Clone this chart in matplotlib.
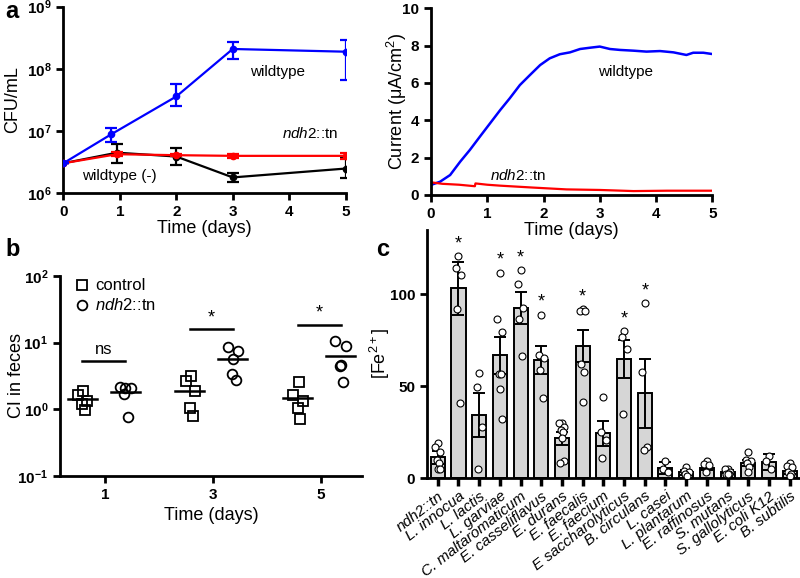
import numpy as np
import matplotlib
matplotlib.use('Agg')
import matplotlib.pyplot as plt
from matplotlib.ticker import FixedLocator, FixedFormatter, NullLocator

plt.rcParams['font.family'] = ['Liberation Sans', 'DejaVu Sans']
plt.rcParams['mathtext.fontset'] = 'custom'
plt.rcParams['mathtext.rm'] = 'Liberation Sans'
plt.rcParams['mathtext.it'] = 'Liberation Sans:italic'
plt.rcParams['mathtext.bf'] = 'Liberation Sans:bold'

# ---------------- Panel a (left): CFU/mL ----------------
cfu_days_wt = [0, 0.85, 2, 3, 5]
cfu_days = [0, 0.95, 2, 3, 5]
cfu_wt = [3.04e6, 8.9e6, 3.6e7, 2.09e8, 1.89e8]
cfu_wt_lo = [0, 2.1e6, 1.1e7, 0.65e8, 1.23e8]
cfu_wt_hi = [0, 2.5e6, 2.1e7, 0.65e8, 1.0e8]
cfu_mut = [3.04e6, 4.25e6, 4.1e6, 4.0e6, 4.0e6]
cfu_mut_err = [0, 0.3e6, 0.15e6, 0.35e6, 0.4e6]
cfu_neg = [3.04e6, 4.5e6, 3.9e6, 1.8e6, 2.5e6]
cfu_neg_lo = [0, 1.4e6, 1.1e6, 0.26e6, 0.76e6]
cfu_neg_hi = [0, 1.8e6, 1.4e6, 0.3e6, 1.15e6]

# ---------------- Panel a (right): current ----------------
cur_wt_t = [0, 0.16, 0.34, 0.52, 0.69, 0.87, 1.05, 1.23, 1.40, 1.58, 1.76, 1.94,
            2.11, 2.29, 2.47, 2.65, 2.83, 3.0, 3.18, 3.36, 3.60, 3.83, 4.07, 4.31,
            4.54, 4.66, 4.84, 5.0]
cur_wt = [0.54, 0.71, 1.07, 1.79, 2.41, 3.13, 3.84, 4.55, 5.18, 5.89, 6.43, 6.96,
          7.32, 7.54, 7.64, 7.82, 7.89, 7.95, 7.82, 7.77, 7.73, 7.68, 7.71, 7.64,
          7.5, 7.62, 7.62, 7.55]
cur_mut_t = [0, 0.2, 0.5, 0.78, 0.79, 1.0, 1.23, 1.8, 2.41, 3.0, 3.6, 4.2, 5.0]
cur_mut = [0.68, 0.6, 0.55, 0.47, 0.62, 0.55, 0.5, 0.4, 0.3, 0.27, 0.21, 0.23, 0.23]

# ---------------- Panel b: CI in feces ----------------
ci_days = [1, 3, 5]
ci_control = [[1.9, 1.62, 1.33, 1.22, 0.98],
              [3.16, 2.66, 1.88, 1.06, 0.79],
              [2.57, 1.62, 1.33, 1.06, 0.71]]
ci_mutant = [[2.2, 2.1, 2.1, 1.7, 0.78],
             [8.7, 7.5, 5.75, 3.35, 2.75],
             [10.6, 8.9, 4.7, 4.4, 2.57]]
ci_control_mean = [1.41, 1.88, 1.46]
ci_mutant_mean = [1.82, 5.6, 6.3]
ci_sig = ['ns', '*', '*']

# ---------------- Panel c: Fe2+ ----------------
species = ['ndh2::tn', 'L. innocua', 'L. lactis', 'L. garviae', 'C. maltaromaticum',
           'E. casseliflavus', 'E. durans', 'E. faecalis', 'E. faecium',
           'E saccharolyticus', 'B. circulans', 'L. casei', 'L. plantarum',
           'E. raffinosus', 'S. mutans', 'S. gallolyticus', 'E. coli K12', 'B. subtilis']
fe_mean = [11.2, 103.3, 34.2, 66.8, 92.6, 64.1, 21.6, 71.9, 24.3, 64.7, 46.0,
           5.6, 3.1, 5.6, 3.4, 8.3, 8.5, 3.8]
fe_sem = [3.4, 14.3, 11.8, 10.2, 8.5, 7.5, 3.4, 8.7, 7.0, 10.5, 19.0,
          3.2, 1.2, 1.5, 0.8, 1.6, 4.3, 1.4]
fe_points = [[19, 17, 14, 10, 8, 5, 5],
             [120.7, 114.5, 110.3, 92.2, 40.6],
             [57.2, 49.3, 27.5, 4.9],
             [111.8, 86.8, 79.5, 56.5, 56.5, 48.7, 31.9],
             [113.4, 105.8, 92.7, 86.8, 66.3],
             [89, 67.2, 65.4, 58.7, 43.3],
             [30, 30, 28, 26, 25, 22, 9, 8],
             [91.8, 90.8, 90.8, 61.8, 57.8, 41.1],
             [44.2, 25.2, 20.7, 10.7],
             [79.9, 76.8, 70.1, 34.6],
             [95.3, 57.8, 17.0, 15.2],
             [9, 5, 3],
             [6, 4, 3, 2, 1],
             [9, 7.5, 7, 3],
             [5, 5, 3, 2, 2, 2],
             [14, 10, 9, 8, 6, 3],
             [12, 9, 5],
             [8, 6.5, 6, 3.5, 2, 1]]
fe_sig = [0, 1, 0, 1, 1, 1, 0, 1, 0, 1, 1, 0, 0, 0, 0, 0, 0, 0]

# ---------------- Figure ----------------
fig = plt.figure(figsize=(8.0, 5.78), dpi=100)
W, H = 800.0, 578.0


def ax_px(x0, y0, x1, y1):
    a = fig.add_axes([x0 / W, 1 - y1 / H, (x1 - x0) / W, (y1 - y0) / H])
    a.patch.set_alpha(0)
    return a


SPW = 2.0
TICKFS = 11
LABFS = 13


def style(ax):
    for s in ['top', 'right']:
        ax.spines[s].set_visible(False)
    for s in ['left', 'bottom']:
        ax.spines[s].set_linewidth(SPW)
    ax.tick_params(width=SPW, length=5, labelsize=TICKFS, direction='out')
    for lab in ax.get_xticklabels() + ax.get_yticklabels():
        lab.set_fontweight('bold')


# Panel a left
ax1 = ax_px(63.3, 6.7, 345.7, 193.3)
ax1.set_yscale('log')
ax1.set_ylim(1e6, 1e9)
ax1.set_xlim(0, 5)
ax1.errorbar(cfu_days_wt, cfu_wt, yerr=[cfu_wt_lo, cfu_wt_hi], color='#0000ff', lw=1.6,
             marker='o', ms=4.5, capsize=4.5, elinewidth=1.6, capthick=1.6, zorder=5)
ax1.errorbar(cfu_days, cfu_mut, yerr=cfu_mut_err, color='#ff0000', lw=1.6,
             marker='o', ms=4.5, capsize=4.5, elinewidth=1.6, capthick=1.6, zorder=4)
ax1.errorbar(cfu_days, cfu_neg, yerr=[cfu_neg_lo, cfu_neg_hi], color='black', lw=1.6,
             marker='o', ms=4.5, capsize=4.5, elinewidth=1.6, capthick=1.6, zorder=3)
ax1.yaxis.set_major_locator(FixedLocator([1e6, 1e7, 1e8, 1e9]))
ax1.yaxis.set_major_formatter(FixedFormatter([r'$\mathbf{10^{6}}$', r'$\mathbf{10^{7}}$',
                                              r'$\mathbf{10^{8}}$', r'$\mathbf{10^{9}}$']))
ax1.yaxis.set_minor_locator(NullLocator())
ax1.set_xticks([0, 1, 2, 3, 4, 5])
ax1.set_xlabel('Time (days)', fontsize=LABFS, labelpad=1)
ax1.set_ylabel('CFU/mL', fontsize=LABFS)
ax1.yaxis.set_label_coords(-0.15, 0.5)
style(ax1)
ax1.text(3.8, 9e7, 'wildtype', fontsize=11, ha='center', va='center')
ax1.text(4.37, 9.3e6, r'$\it{ndh2}$::tn', fontsize=11, ha='center', va='center')
ax1.text(1.0, 1.9e6, 'wildtype (-)', fontsize=11, ha='center', va='center')

# Panel a right
ax2 = ax_px(431, 8.3, 712.3, 195)
ax2.plot(cur_wt_t, cur_wt, color='#0000ff', lw=1.8)
ax2.plot(cur_mut_t, cur_mut, color='#ff0000', lw=1.6)
ax2.set_xlim(0, 5)
ax2.set_ylim(0, 10)
ax2.set_xticks([0, 1, 2, 3, 4, 5])
ax2.set_yticks([0, 2, 4, 6, 8, 10])
ax2.set_xlabel('Time (days)', fontsize=LABFS, labelpad=1)
ax2.set_ylabel('Current (μA/cm$^{2}$)', fontsize=LABFS)
ax2.yaxis.set_label_coords(-0.078, 0.5)
style(ax2)
ax2.text(3.45, 6.6, 'wildtype', fontsize=11, ha='center', va='center')
ax2.text(1.55, 1.07, r'$\it{ndh2}$::tn', fontsize=11, ha='center', va='center')

# Panel b
ax3 = ax_px(60, 276, 361.7, 476)
ax3.set_yscale('log')
ax3.set_ylim(0.1, 100)
ax3.set_xlim(0.16, 5.76)
ctrl_off, mut_off = -0.43, 0.37
jit_c = [0.02, -0.08, 0.1, 0.0, 0.05]
jit_m = [-0.1, 0.1, 0.0, -0.02, 0.05]
for i, d in enumerate(ci_days):
    xc = [d + ctrl_off + j for j in jit_c]
    xm = [d + mut_off + j for j in jit_m]
    ax3.plot(xc, ci_control[i], ls='none', marker='s', ms=7, mfc='none', mec='black', mew=1.3)
    ax3.plot(xm, ci_mutant[i], ls='none', marker='o', ms=7, mfc='none', mec='black', mew=1.3)
    ax3.plot([d + ctrl_off - 0.27, d + ctrl_off + 0.27], [ci_control_mean[i]] * 2, color='black', lw=1.8)
    ax3.plot([d + mut_off - 0.27, d + mut_off + 0.27], [ci_mutant_mean[i]] * 2, color='black', lw=1.8)
sig_y = [5.4, 15.8, 18.3]
for i, d in enumerate(ci_days):
    ax3.plot([d + ctrl_off, d + mut_off], [sig_y[i]] * 2, color='black', lw=1.8)
    ax3.text(d + (ctrl_off + mut_off) / 2, sig_y[i] * 1.12, ci_sig[i], ha='center', va='bottom',
             fontsize=12 if ci_sig[i] == 'ns' else 13)
ax3.yaxis.set_major_locator(FixedLocator([0.1, 1, 10, 100]))
ax3.yaxis.set_major_formatter(FixedFormatter([r'$\mathbf{10^{-1}}$', r'$\mathbf{10^{0}}$',
                                              r'$\mathbf{10^{1}}$', r'$\mathbf{10^{2}}$']))
ax3.yaxis.set_minor_locator(NullLocator())
ax3.set_xticks(ci_days)
ax3.set_xlabel('Time (days)', fontsize=LABFS, labelpad=4)
ax3.set_ylabel('CI in feces', fontsize=LABFS)
ax3.yaxis.set_label_coords(-0.116, 0.5)
style(ax3)
ax3.plot([0.57], [73], ls='none', marker='s', ms=7, mfc='none', mec='black', mew=1.3, clip_on=False)
ax3.plot([0.57], [37], ls='none', marker='o', ms=7, mfc='none', mec='black', mew=1.3, clip_on=False)
ax3.text(0.81, 73, 'control', fontsize=12, va='center')
ax3.text(0.81, 37, r'$\it{ndh2}$::tn', fontsize=12, va='center')

# Panel c
ax4 = ax_px(427, 230, 800, 478)
xs = np.arange(len(species))
ax4.bar(xs, fe_mean, width=0.68, color='#d6d6d6', edgecolor='black', lw=1.4, zorder=2)
ax4.errorbar(xs, fe_mean, yerr=fe_sem, fmt='none', ecolor='black', elinewidth=1.4,
             capsize=4, capthick=1.4, zorder=4)
pt_jit = [0.0, -0.12, 0.12, -0.06, 0.06, 0.0, 0.1, -0.1]
for i, pts in enumerate(fe_points):
    px = [i + pt_jit[k % len(pt_jit)] for k in range(len(pts))]
    ax4.plot(px, pts, ls='none', marker='o', ms=5, mfc='white', mec='black', mew=0.8, zorder=5)
    if fe_sig[i]:
        ax4.text(i, max(pts) + 2, '*', ha='center', va='bottom', fontsize=13)
ax4.set_xlim(-0.52, 17.5)
ax4.set_ylim(0, 135)
ax4.set_yticks([0, 50, 100])
ax4.set_xticks(xs)
ax4.set_xticklabels(species, rotation=38, ha='right', rotation_mode='anchor',
                    fontsize=9.8, style='italic')
ax4.set_ylabel('[Fe$^{2+}$]', fontsize=LABFS)
ax4.yaxis.set_label_coords(-0.094, 0.5)
style(ax4)
for lab in ax4.get_xticklabels():
    lab.set_fontweight('normal')
ax4.tick_params(axis='x', length=6, width=2.5, pad=2)

# Panel letters
fig.text(5 / W, 1 - 12 / H, 'a', fontsize=17, fontweight='bold', va='center')
fig.text(5 / W, 1 - 250 / H, 'b', fontsize=17, fontweight='bold', va='center')
fig.text(376 / W, 1 - 250 / H, 'c', fontsize=17, fontweight='bold', va='center')

fig.savefig('out.png', dpi=100)
